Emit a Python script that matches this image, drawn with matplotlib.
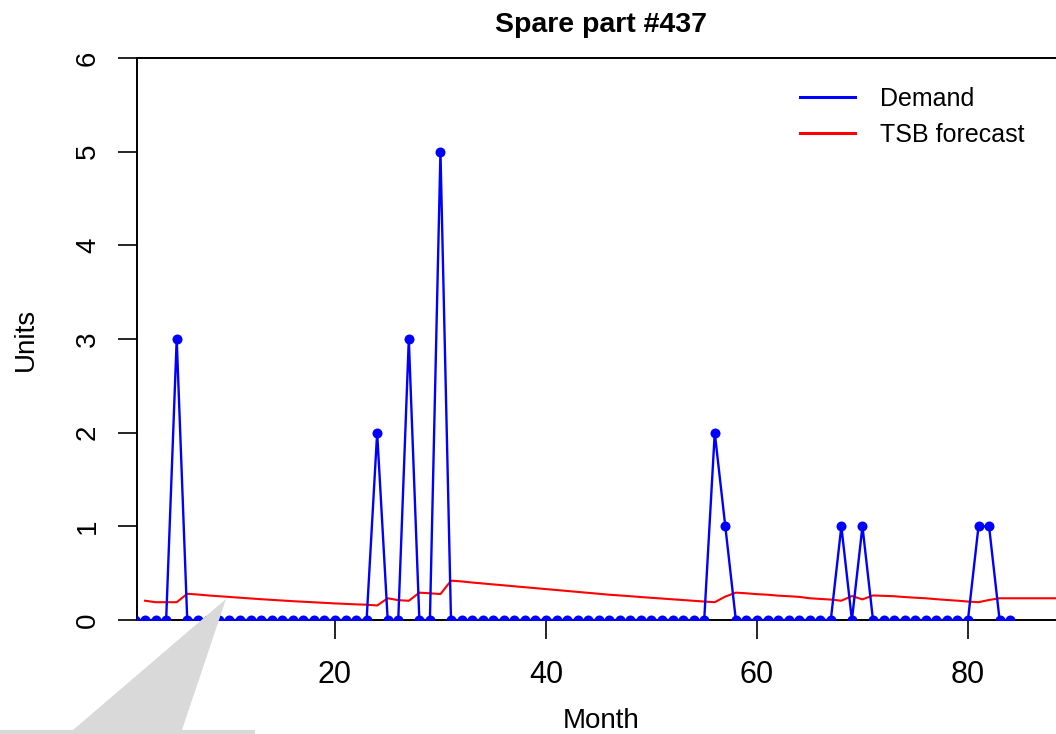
import matplotlib
matplotlib.use("Agg")
import matplotlib.pyplot as plt
from matplotlib.patches import Polygon
import numpy as np

plt.rcParams['font.family'] = ['Liberation Sans', 'DejaVu Sans']

# ---- data ----
title = "Spare part #437"
x_label = "Month"
y_label = "Units"
demand_label = "Demand"
forecast_label = "TSB forecast"

demand_months = list(range(1, 85))
demand = [0, 0, 0, 0, 3, 0, 0, 0, 0, 0,
          0, 0, 0, 0, 0, 0, 0, 0, 0, 0,
          0, 0, 0, 2, 0, 0, 3, 0, 0, 5,
          0, 0, 0, 0, 0, 0, 0, 0, 0, 0,
          0, 0, 0, 0, 0, 0, 0, 0, 0, 0,
          0, 0, 0, 0, 0, 2, 1, 0, 0, 0,
          0, 0, 0, 0, 0, 0, 0, 1, 0, 1,
          0, 0, 0, 0, 0, 0, 0, 0, 0, 0,
          1, 1, 0, 0]

forecast_months = list(range(2, 91))
forecast = [0.206, 0.190, 0.190, 0.190, 0.280, 0.272, 0.262, 0.254, 0.246,   # 2-10
            0.238, 0.230, 0.222, 0.215, 0.208, 0.201, 0.195, 0.189, 0.183, 0.177,  # 11-20
            0.172, 0.167, 0.163, 0.155, 0.232, 0.212, 0.205, 0.292, 0.285, 0.277,  # 21-30
            0.420, 0.412, 0.400, 0.390, 0.380, 0.370, 0.360, 0.350, 0.340, 0.330,  # 31-40
            0.320, 0.310, 0.300, 0.290, 0.280, 0.270, 0.262, 0.254, 0.245, 0.237,  # 41-50
            0.229, 0.221, 0.213, 0.205, 0.197, 0.190, 0.250, 0.292, 0.285, 0.276,  # 51-60
            0.270, 0.260, 0.254, 0.247, 0.232, 0.225, 0.218, 0.206, 0.256, 0.220,  # 61-70
            0.262, 0.258, 0.254, 0.245, 0.238, 0.232, 0.222, 0.214, 0.206, 0.197,  # 71-80
            0.190, 0.214, 0.232, 0.232, 0.232, 0.232, 0.232, 0.232, 0.232, 0.232]  # 81-90

x_ticks = [20, 40, 60, 80]
y_ticks = [0, 1, 2, 3, 4, 5, 6]

# ---- figure ----
W, H = 1056, 734
fig = plt.figure(figsize=(W / 100, H / 100), dpi=100)
left_px, right_px, top_px, bottom_px = 137, 1065, 58, 620
ax = fig.add_axes([left_px / W, 1 - bottom_px / H,
                   (right_px - left_px) / W, (bottom_px - top_px) / H])

ax.plot(demand_months, demand, color='blue', lw=1.7, marker='o', ms=7.2,
        markeredgewidth=0, label=demand_label, zorder=3)
ax.plot(forecast_months, forecast, color='red', lw=1.5, label=forecast_label, zorder=2)

px_per_month = 10.55
x0 = 1 - (134.5 - left_px) / px_per_month
x1 = x0 + (right_px - left_px) / px_per_month
ax.set_xlim(x0, x1)
ax.set_ylim(0, 6)

ax.set_xticks(x_ticks)
ax.set_xticklabels([str(v) for v in x_ticks], fontsize=22)
ax.set_yticks(y_ticks)
ax.set_yticklabels([str(v) for v in y_ticks], fontsize=20, rotation=90, va='center')
ax.tick_params(axis='x', length=14, width=1.2, pad=15, colors='black')
ax.tick_params(axis='y', length=14, width=1.2, pad=12, colors='black')
for s in ax.spines.values():
    s.set_linewidth(1.4)
    s.set_color('black')

ax.set_xlabel(x_label, fontsize=20, labelpad=13)
ax.set_ylabel(y_label, fontsize=20, labelpad=26)
ax.set_title(title, fontsize=20.5, fontweight='bold', pad=19)

leg = ax.legend(loc='upper left', bbox_to_anchor=(777 / W, 1 - 64 / H),
                bbox_transform=fig.transFigure, frameon=False, fontsize=18,
                handlelength=2.2, handletextpad=1.0, labelspacing=0.5)
for line in leg.get_lines():
    line.set_linewidth(2.2)
    line.set_marker('')

# gray callout shape (overlay)
poly_px = [(226, 599), (182, 730), (255, 730), (255, 734), (0, 734), (0, 730), (73, 730)]
poly = Polygon([(x / W, 1 - y / H) for x, y in poly_px], closed=True,
               transform=fig.transFigure, facecolor='#d9d9d9', edgecolor='none', zorder=10)
fig.patches.append(poly)

fig.savefig("out.png", dpi=100)
